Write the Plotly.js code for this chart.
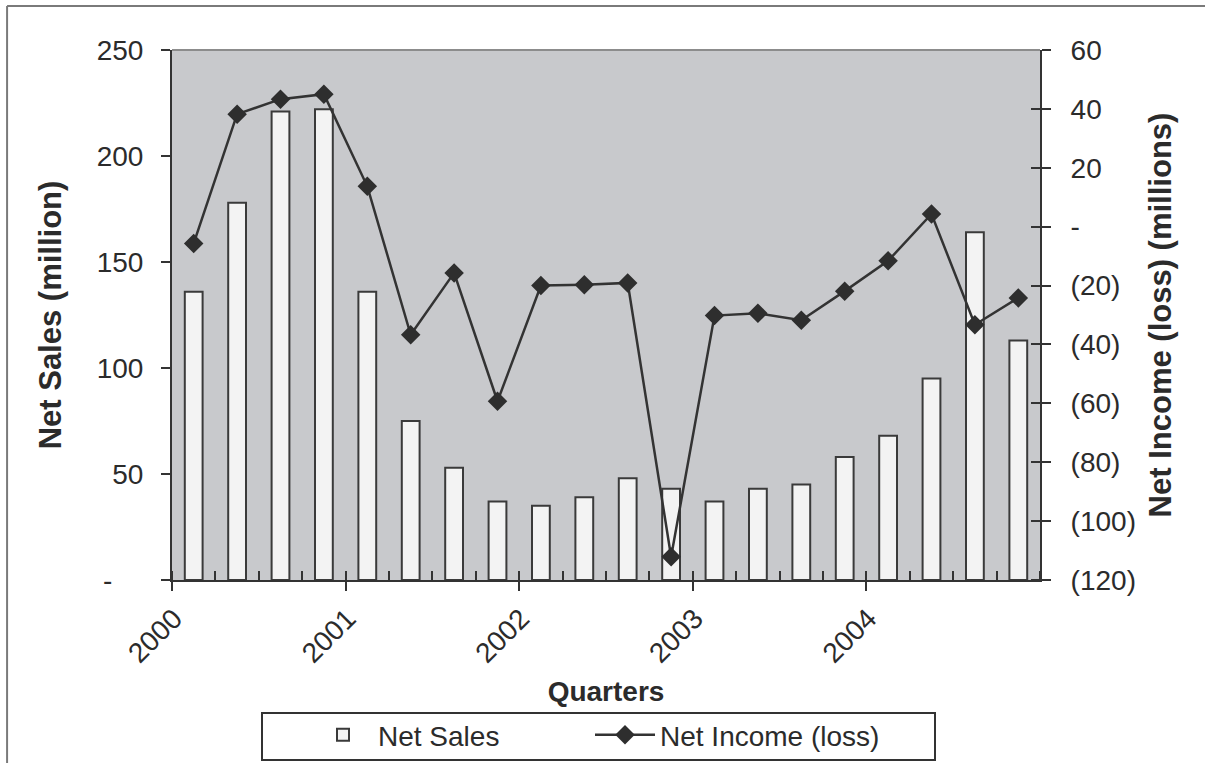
<!DOCTYPE html>
<html>
<head>
<meta charset="utf-8">
<script src="https://cdn.plot.ly/plotly-3.0.1.min.js"></script>
<style>
  html, body { margin: 0; padding: 0; background: #ffffff; }
  #chart { width: 1205px; height: 763px; }
</style>
</head>
<body>
<div id="chart"></div>
<script>
// ---- data ----
const quarters = [
  '2000 Q1','2000 Q2','2000 Q3','2000 Q4',
  '2001 Q1','2001 Q2','2001 Q3','2001 Q4',
  '2002 Q1','2002 Q2','2002 Q3','2002 Q4',
  '2003 Q1','2003 Q2','2003 Q3','2003 Q4',
  '2004 Q1','2004 Q2','2004 Q3','2004 Q4'
];
const netSales = [136, 178, 221, 222, 136, 75, 53, 37, 35, 39, 48, 43, 37, 43, 45, 58, 68, 95, 164, 113];
const netIncome = [-5.7, 38.2, 43.3, 45.0, 13.7, -36.7, -15.7, -59.3, -20.0, -19.7, -19.1, -112.1,
                   -30.2, -29.4, -31.8, -21.9, -11.6, 4.3, -33.3, -24.2];
const yearLabels = ['2000', '2001', '2002', '2003', '2004'];
const salesTicks = [0, 50, 100, 150, 200, 250];
const salesTickText = ['-\u00a0\u00a0\u00a0\u00a0', '50', '100', '150', '200', '250'];
const incomeTicks = [-120, -100, -80, -60, -40, -20, 0, 20, 40, 60];
const incomeTickText = ['(120)', '(100)', '(80)', '(60)', '(40)', '(20)', '-', '20', '40', '60'];

// quarter positions on a linear axis; tick marks sit on the boundaries between quarters
const quarterPos = quarters.map((q, i) => i);
const boundaries = quarters.map((q, i) => i - 0.5).concat([quarters.length - 0.5]);
// a year label at the first boundary of each year
const boundaryText = boundaries.map((b, i) => (i % 4 === 0 && i / 4 < yearLabels.length) ? yearLabels[i / 4] : '');
const xRange = [-0.5, quarters.length - 0.5];

const FONT = 'Liberation Sans, Arial, Helvetica, sans-serif';
const INK = '#2b2b2b';
const AX = '#333333';

const traces = [
  {
    type: 'bar',
    name: 'Net Sales',
    x: quarterPos,
    y: netSales,
    hovertext: quarters,
    width: 0.41,
    marker: { color: '#f3f3f3', line: { color: '#3a3a3a', width: 2 } },
    xaxis: 'x', yaxis: 'y',
    legend: 'legend'
  },
  {
    type: 'scatter',
    mode: 'lines+markers',
    name: 'Net Income (loss)',
    x: quarterPos,
    y: netIncome,
    hovertext: quarters,
    line: { color: '#333333', width: 2.5 },
    marker: { symbol: 'diamond', size: 15, color: '#2e2e2e' },
    xaxis: 'x', yaxis: 'y2',
    legend: 'legend2'
  }
];

const legendCommon = {
  orientation: 'h',
  xanchor: 'left',
  y: -0.2453, yanchor: 'top',
  borderwidth: 0,
  bgcolor: 'rgba(0,0,0,0)',
  font: { size: 28, color: INK },
  itemwidth: 60
};

const layout = {
  width: 1205,
  height: 763,
  margin: { l: 172, r: 165, t: 50, b: 183, pad: 0, autoexpand: false },
  paper_bgcolor: '#ffffff',
  plot_bgcolor: '#c8c9cc',
  font: { family: FONT, color: INK, size: 28 },
  showlegend: true,
  xaxis: {
    type: 'linear',
    range: xRange,
    tickmode: 'array',
    tickvals: boundaries,
    ticktext: boundaryText,
    tickangle: -45,
    ticks: 'outside', ticklen: 9, tickwidth: 2, tickcolor: AX,
    ticklabelshift: 2,
    ticklabelstandoff: 0,
    tickfont: { size: 28, color: INK },
    minor: { tickmode: 'array', tickvals: boundaries, ticks: 'inside', ticklen: 9, tickwidth: 2, tickcolor: AX, showgrid: false },
    showline: true, linecolor: AX, linewidth: 2,
    showgrid: false, zeroline: false,
    title: { text: 'Quarters', font: { size: 28, weight: 700, color: INK }, standoff: 14 }
  },
  yaxis: {
    range: [0, 250],
    tickmode: 'array', tickvals: salesTicks, ticktext: salesTickText,
    ticks: 'outside', ticklen: 9, tickwidth: 2, tickcolor: AX,
    ticklabelstandoff: 12,
    tickfont: { size: 28, color: INK },
    showline: true, linecolor: AX, linewidth: 2,
    showgrid: false, zeroline: false,
    title: { text: 'Net Sales (million)', font: { size: 31, weight: 700, color: INK }, standoff: 26 }
  },
  yaxis2: {
    overlaying: 'y', side: 'right', anchor: 'x',
    range: [-120, 60],
    tickmode: 'array', tickvals: incomeTicks, ticktext: incomeTickText,
    ticks: 'outside', ticklen: 9, tickwidth: 2, tickcolor: AX,
    ticklabelstandoff: 14,
    minor: { tickmode: 'array', tickvals: incomeTicks, ticks: 'inside', ticklen: 9, tickwidth: 2, tickcolor: AX, showgrid: false },
    tickfont: { size: 28, color: INK },
    showline: true, linecolor: AX, linewidth: 2,
    showgrid: false, zeroline: false,
    title: { text: 'Net Income (loss) (millions)', font: { size: 31, weight: 700, color: INK }, standoff: 14 }
  },
  legend: Object.assign({ x: (308 - 172) / 868 }, legendCommon),
  legend2: Object.assign({ x: (590 - 172) / 868 }, legendCommon),
  shapes: [
    // plot-area top edge
    { type: 'line', xref: 'paper', yref: 'paper', x0: 0, x1: 1, y0: 1, y1: 1,
      line: { color: '#8c8c8c', width: 2 } },
    // legend frame
    { type: 'rect', xref: 'paper', yref: 'paper',
      x0: (262 - 172) / 868, x1: (935 - 172) / 868, y0: (580 - 760) / 530, y1: (580 - 713) / 530,
      line: { color: AX, width: 2 }, fillcolor: 'rgba(0,0,0,0)' },
    // outer frame of the figure (left and top)
    { type: 'line', xref: 'paper', yref: 'paper', x0: -0.190, x1: -0.190, y0: -0.36, y1: 1.083,
      line: { color: '#7a7a7a', width: 2 } },
    { type: 'line', xref: 'paper', yref: 'paper', x0: -0.190, x1: 1.20, y0: 1.083, y1: 1.083,
      line: { color: '#7a7a7a', width: 2 } }
  ]
};

Plotly.newPlot('chart', traces, layout, { displayModeBar: false, staticPlot: true });
</script>
</body>
</html>
